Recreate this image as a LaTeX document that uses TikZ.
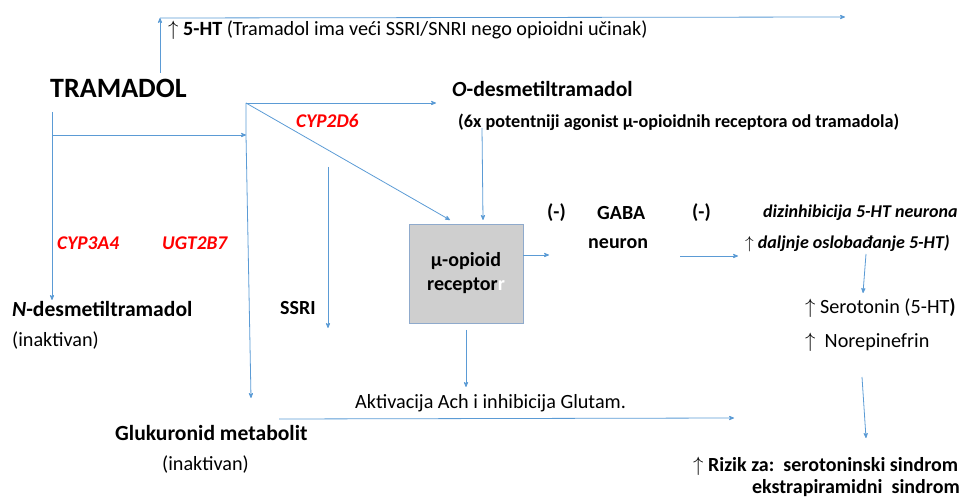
\documentclass[tikz,border=0pt]{standalone}
\usepackage{fontspec}
\setmainfont{Carlito}
\usetikzlibrary{arrows,positioning}
\definecolor{arrowblue}{HTML}{5B9BD5}
\definecolor{enzred}{HTML}{FF0000}
\definecolor{boxgray}{HTML}{CFCFCF}
\definecolor{boxedge}{HTML}{8FAACC}
\tikzset{>=stealth',auto}
\tikzset{flow/.style={->,draw=arrowblue,line width=0.8pt}}
\tikzset{lbl/.style={anchor=west,inner sep=0pt,font=\fontsize{20.2}{24}\selectfont}}
\tikzset{blbl/.style={lbl,font=\fontsize{20}{24}\selectfont\bfseries}}
\tikzset{bigbold/.style={lbl,font=\fontsize{21.6}{26}\selectfont\bfseries}}
\tikzset{enzyme/.style={lbl,text=enzred,font=\fontsize{19.4}{22}\selectfont\bfseries\itshape}}
\newcommand{\up}{$\uparrow$}

\begin{document}
\begin{tikzpicture}[x=1pt,y=-1pt,>=stealth',auto]
    \useasboundingbox (0,0) rectangle (969,502);
    % texts
    \node[lbl] (ht) at (168,30) {\up\ \textbf{5-HT} (Tramadol ima veći SSRI/SNRI nego opioidni učinak)};
    \node[lbl,font=\fontsize{28}{32}\selectfont\bfseries] (tram) at (50,88) {TRAMADOL};
    \node[bigbold] (odes) at (452,89) {\textit{O}-desmetiltramadol};
    \node[lbl,font=\fontsize{18.2}{22}\selectfont\bfseries] (pot) at (458,122) {(6x potentniji agonist μ-opioidnih receptora od tramadola)};
    \node[enzyme] (cyp2d6) at (296,121) {CYP2D6};
    \node[enzyme] (cyp3a4) at (57,243) {CYP3A4};
    \node[enzyme] (ugt) at (162,243) {UGT2B7};
    \node[bigbold] (ndes) at (12,309) {\textit{N}-desmetiltramadol};
    \node[lbl] (ninak) at (12,341) {(inaktivan)};
    \node[blbl] (ssri) at (280,308) {SSRI};
    \node[draw=boxedge,fill=boxgray,line width=0.8pt,minimum width=114pt,minimum height=99pt,
          align=center,font=\fontsize{20}{24}\selectfont\bfseries] (rec) at (466,273.5)
          {μ-opioid\\receptor{\color{white}r}};
    \node[blbl] (neg1) at (547,213) {(-)};
    \node[blbl] (gaba) at (597,213) {GABA};
    \node[blbl] (neg2) at (692,213) {(-)};
    \node[blbl] (neur) at (588,244) {neuron};
    \node[lbl,font=\fontsize{18}{22}\selectfont\bfseries\itshape] (diz) at (763,213) {dizinhibicija 5-HT neurona};
    \node[lbl,font=\fontsize{18}{22}\selectfont\bfseries\itshape] (dalj) at (745,244) {\up\ daljnje oslobađanje 5-HT)};
    \node[lbl] (sero) at (805,308) {\up\ Serotonin (5-HT\textbf{)}};
    \node[lbl] (nore) at (805,342) {\up\ \ Norepinefrin};
    \node[blbl] (rizik) at (693,466) {\mdseries\up\ \bfseries Rizik za:\ \ serotoninski sindrom};
    \node[blbl,anchor=east] (ekstra) at (960,488) {ekstrapiramidni\ \ sindrom};
    \node[lbl] (akt) at (355,403) {Aktivacija Ach i inhibicija Glutam.};
    \node[bigbold] (gluk) at (115,433) {Glukuronid metabolit};
    \node[lbl] (ginak) at (162,465) {(inaktivan)};
    % line ends
    \coordinate (t0) at (160,73);
    \coordinate (t1) at (160,18);
    \coordinate (t2) at (845,17);
    \coordinate (tr0) at (52,112);
    \coordinate (tr1) at (52,135);
    \coordinate (tr2) at (52,300);
    \coordinate (j) at (246,103);
    \coordinate (k) at (246,135);
    \coordinate (g1) at (251,398);
    \coordinate (o1) at (436,103);
    \coordinate (d1) at (450,220);
    \coordinate (p0) at (482,128);
    \coordinate (p1) at (483,220);
    \coordinate (s0) at (328,167);
    \coordinate (s1) at (328,328);
    \coordinate (r0) at (523,255);
    \coordinate (r1) at (549,255);
    \coordinate (n0) at (680,256);
    \coordinate (n1) at (738,256);
    \coordinate (h0) at (866,254);
    \coordinate (h1) at (863,293);
    \coordinate (h2) at (862,377);
    \coordinate (h3) at (866,438);
    \coordinate (b0) at (466,330);
    \coordinate (b1) at (466,387);
    \coordinate (l0) at (279,419);
    \coordinate (l1) at (734,418);
    % arrows
    \draw[flow] (t0) -- (t1);
    \draw[flow] (t1) -- (t2);
    \draw[flow] (tr0) -- (tr2);
    \draw[flow] (tr1) -- (k);
    \draw[flow] (j) -- (k) -- (g1);
    \draw[flow] (j) -- (o1);
    \draw[flow] (j) -- (d1);
    \draw[flow] (p0) -- (p1);
    \draw[flow] (s0) -- (s1);
    \draw[flow] (r0) -- (r1);
    \draw[flow] (n0) -- (n1);
    \draw[flow] (h0) -- (h1);
    \draw[flow] (h2) -- (h3);
    \draw[flow] (b0) -- (b1);
    \draw[flow] (l0) -- (l1);
\end{tikzpicture}
\end{document}
